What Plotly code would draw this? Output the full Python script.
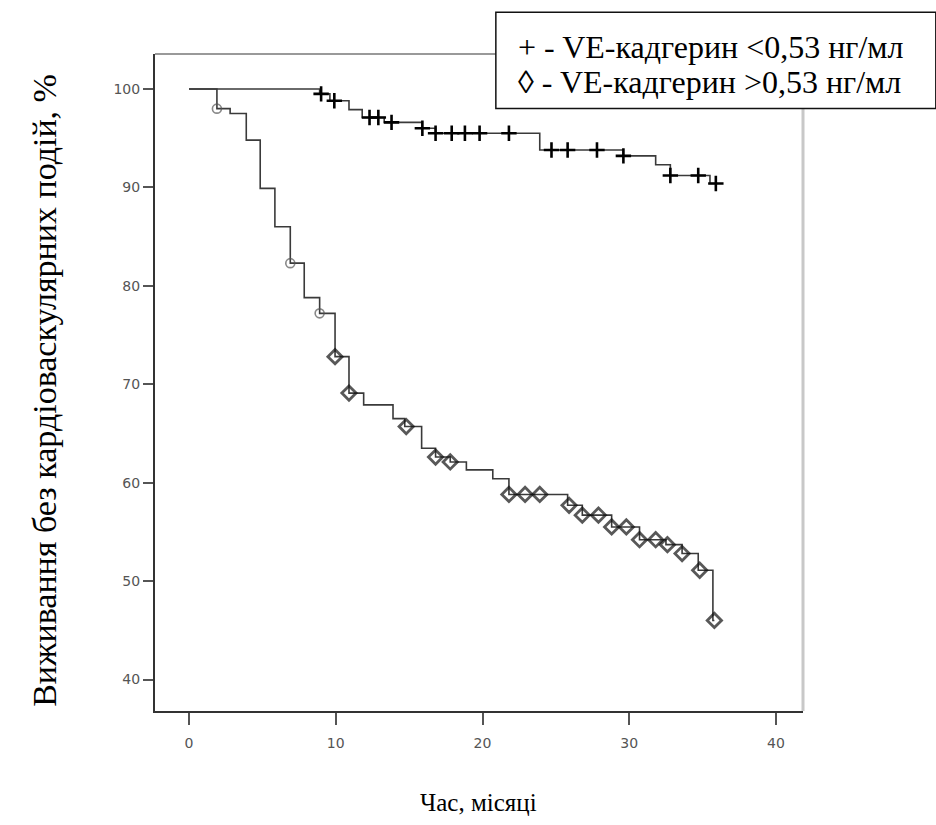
import plotly.graph_objects as go

# ---- data ----
# Group "+" : VE-cadherin < 0.53 ng/ml  (event times, survival % after event)
low_t = [0, 8.9, 9.6, 10.9, 11.8, 13.3, 15.9, 16.8, 23.9, 29.6, 31.8, 32.8, 35.5]
low_s = [100, 99.5, 98.8, 97.9, 97.1, 96.6, 96.0, 95.5, 93.8, 93.2, 92.3, 91.2, 90.4]
low_end = 36.0
low_cens = [9.0, 9.9, 12.3, 12.9, 13.8, 15.9, 16.8, 17.9, 18.8, 19.8, 21.8,
            24.7, 25.8, 27.8, 29.6, 32.8, 34.7, 35.9]

# Group "◊" : VE-cadherin > 0.53 ng/ml
high_t = [0, 1.9, 2.8, 3.9, 4.85, 5.85, 6.9, 7.85, 8.9, 9.95, 10.9, 11.9, 13.9,
          14.7, 15.85, 16.8, 17.8, 18.9, 20.7, 21.8, 25.8, 26.8, 28.8, 30.7,
          32.5, 33.6, 34.7, 35.7]
high_s = [100, 98.0, 97.5, 94.8, 89.9, 86.0, 82.3, 78.8, 77.2, 72.8, 69.1, 67.9,
          66.5, 65.7, 63.5, 62.6, 62.1, 61.3, 60.4, 58.8, 57.7, 56.7, 55.5, 54.2,
          53.7, 52.8, 51.1, 46.0]
high_end = 35.8
high_cens = [1.9, 6.9, 8.9, 9.95, 10.9, 14.8, 16.8, 17.8, 21.8, 22.9, 23.9, 25.9,
             26.8, 27.9, 28.8, 29.8, 30.7, 31.8, 32.6, 33.6, 34.8, 35.8]

x_ticks = [0, 10, 20, 30, 40]
y_ticks = [40, 50, 60, 70, 80, 90, 100]

legend_lines = ["+ - VE-кадгерин &lt;0,53 нг/мл", "◊ - VE-кадгерин &gt;0,53 нг/мл"]
x_title = "Час, місяці"
y_title = "Виживання без кардіоваскулярних подій, %"


def surv_at(times, vals, t):
    s = vals[0]
    for ti, si in zip(times, vals):
        if ti <= t + 1e-9:
            s = si
    return s


fig = go.Figure()

line_col = "#3a3a3a"
fig.add_trace(go.Scatter(x=low_t + [low_end], y=low_s + [low_s[-1]], mode="lines",
                         line=dict(shape="hv", color=line_col, width=1.6),
                         showlegend=False, hoverinfo="skip"))
fig.add_trace(go.Scatter(x=high_t + [high_end], y=high_s + [high_s[-1]], mode="lines",
                         line=dict(shape="hv", color=line_col, width=1.6),
                         showlegend=False, hoverinfo="skip"))

fig.add_trace(go.Scatter(x=low_cens, y=[surv_at(low_t, low_s, t) for t in low_cens],
                         mode="markers",
                         marker=dict(symbol="cross-thin", size=11,
                                     line=dict(color="#000", width=2.6)),
                         showlegend=False))

high_sym = ["circle-open" if t < 9.5 else "diamond-open" for t in high_cens]
high_size = [9 if t < 9.5 else 11 for t in high_cens]
high_lw = [1.6 if t < 9.5 else 2.8 for t in high_cens]
high_col = ["#555" if t < 9.5 else "#111" for t in high_cens]
fig.add_trace(go.Scatter(x=high_cens, y=[surv_at(high_t, high_s, t) for t in high_cens],
                         mode="markers",
                         marker=dict(symbol=high_sym, size=high_size, color=high_col,
                                     line=dict(color=high_col, width=high_lw)),
                         showlegend=False))

tick_font = dict(family="DejaVu Sans", size=14, color="#555")
fig.update_xaxes(range=[-2.32, 41.84], tickvals=x_ticks, ticks="outside", ticklen=12,
                 tickwidth=1.5, tickcolor="#555", showgrid=False, zeroline=False,
                 showline=True, linecolor="#333", linewidth=2, tickfont=tick_font,
                 ticklabelstandoff=6)
fig.update_yaxes(range=[36.8, 103.55], tickvals=y_ticks, ticks="outside", ticklen=10,
                 tickwidth=1.5, tickcolor="#555", showgrid=False, zeroline=False,
                 showline=True, linecolor="#333", linewidth=2, tickfont=tick_font)

# top and right frame lines
fig.add_shape(type="line", xref="paper", yref="paper", x0=0, x1=1, y0=1, y1=1,
              line=dict(color="#777", width=1.5))
fig.add_shape(type="line", xref="paper", yref="paper", x0=1, x1=1, y0=0, y1=1,
              line=dict(color="#c8c8c8", width=3))
# legend box
fig.add_shape(type="rect", xref="paper", yref="paper", x0=0.526, x1=1.205,
              y0=0.917, y1=1.0635, line=dict(color="#111", width=1.5),
              fillcolor="white", layer="above")

serif = "Liberation Serif, Times New Roman, serif"
for i, txt in enumerate(legend_lines):
    fig.add_annotation(text=txt, xref="paper", yref="paper", x=0.557,
                       y=[1.0107, 0.9574][i], xanchor="left", yanchor="middle",
                       showarrow=False, font=dict(family=serif, size=32, color="#000"))

fig.add_annotation(text=x_title, xref="paper", yref="paper", x=0.4985, y=-0.14,
                   xanchor="center", yanchor="middle", showarrow=False,
                   font=dict(family=serif, size=25, color="#000"))
fig.add_annotation(text=y_title, xref="paper", yref="paper", x=-0.17, y=0.4886,
                   xanchor="center", yanchor="middle", textangle=-90, showarrow=False,
                   font=dict(family=serif, size=34, color="#000"))

fig.update_layout(width=936, height=825, margin=dict(l=155, r=133, t=54, b=114),
                  paper_bgcolor="white", plot_bgcolor="white")

fig.write_html("out.html")
